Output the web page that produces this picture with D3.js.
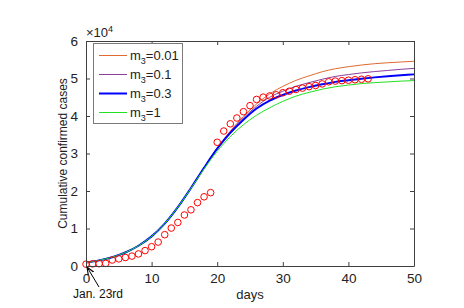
<!DOCTYPE html>
<html>
<head>
<meta charset="utf-8">
<script src="https://cdn.jsdelivr.net/npm/d3@7"></script>
<style>
  body { margin: 0; background: #fff; }
  svg { display: block; font-family: "Liberation Sans", Arial, sans-serif; }
</style>
</head>
<body>
<svg width="464" height="308"></svg>
<script>
// reported cumulative cases, day 0 = Jan. 23rd
const obsDays = d3.range(0, 44);
const obsCases = [495, 572, 618, 698, 1590, 1905, 2261, 2639, 3215, 4109,
  5142, 6384, 8351, 10117, 11618, 13603, 14982, 16902, 18454, 19558,
  32994, 35991, 37914, 39462, 41152, 42752, 44412, 45027, 45346, 45660,
  46201, 46607, 47071, 47441, 47824, 48137, 48557, 49122, 49315, 49426,
  49540, 49671, 49797, 49912];

// model curves, read every 2 days
const modelDays = [0, 2, 4, 6, 8, 10, 12, 14, 16, 18, 20, 22, 24, 26, 28, 30, 32, 34, 36, 38, 40, 42, 44, 46, 48, 50];
const m001 = [900, 1500, 2350, 3600, 5400, 7900, 11300, 15700, 20800, 26250, 31500, 36000, 39900, 43200, 45900, 47900, 49500, 50700, 51800, 52600, 53150, 53600, 53950, 54200, 54400, 54600];
const m01 = [900, 1500, 2350, 3600, 5400, 7900, 11300, 15700, 20800, 26200, 31400, 35800, 39500, 42600, 45000, 46600, 47900, 48900, 49800, 50550, 51050, 51500, 51850, 52150, 52450, 52700];
const m03 = [900, 1500, 2350, 3600, 5400, 7900, 11300, 15700, 20800, 26200, 31300, 35500, 39000, 42000, 44100, 45600, 46800, 47700, 48450, 49100, 49550, 49950, 50300, 50600, 50850, 51100];
const m1 = [900, 1500, 2350, 3600, 5400, 7900, 11300, 15700, 20700, 25900, 30600, 34500, 37700, 40200, 42200, 43900, 45300, 46300, 47150, 47800, 48250, 48650, 48900, 49100, 49300, 49450];

const seriesNames = ["0.01", "0.1", "0.3", "1"];
const seriesColors = ["#e06a30", "#8a3f9a", "#0000ff", "#22e022"];
const seriesWidths = [1, 1, 2, 1];
const seriesValues = [m001, m01, m03, m1];

const xTicks = [0, 10, 20, 30, 40, 50];
const yTicks = [0, 10000, 20000, 30000, 40000, 50000, 60000];

const svg = d3.select("svg");
const plotLeft = 86, plotRight = 414, plotTop = 41, plotBottom = 266;

const x = d3.scaleLinear().domain([0, 50]).range([plotLeft, plotRight]);
const y = d3.scaleLinear().domain([0, 60000]).range([plotBottom, plotTop]);

const axisColor = "#404040";

// curves
const line = d3.line()
  .x(d => x(d[0]))
  .y(d => y(d[1]))
  .curve(d3.curveMonotoneX);

seriesValues.forEach((vals, i) => {
  svg.append("path")
    .datum(modelDays.map((d, j) => [d, vals[j]]))
    .attr("d", line)
    .attr("fill", "none")
    .attr("stroke", seriesColors[i])
    .attr("stroke-width", seriesWidths[i]);
});

// observed points
svg.append("g")
  .selectAll("circle")
  .data(obsDays)
  .join("circle")
  .attr("cx", d => x(d))
  .attr("cy", (d, i) => y(obsCases[i]))
  .attr("r", 3.3)
  .attr("fill", "none")
  .attr("stroke", "#ff0000")
  .attr("stroke-width", 1);

// axes (box with inward ticks)
const fmtY = d => d / 10000;
svg.append("g")
  .attr("transform", `translate(0,${plotBottom})`)
  .call(d3.axisBottom(x).tickValues(xTicks).tickSizeInner(-4).tickSizeOuter(0).tickPadding(7))
  .call(g => g.selectAll("text").attr("font-size", 13.5).attr("fill", "#222"));
svg.append("g")
  .attr("transform", `translate(0,${plotTop})`)
  .call(d3.axisTop(x).tickValues(xTicks).tickSizeInner(-4).tickSizeOuter(0).tickFormat(""));
svg.append("g")
  .attr("transform", `translate(${plotLeft},0)`)
  .call(d3.axisLeft(y).tickValues(yTicks).tickFormat(fmtY).tickSizeInner(-4).tickSizeOuter(0).tickPadding(8))
  .call(g => g.selectAll("text").attr("font-size", 13.5).attr("fill", "#222"));
svg.append("g")
  .attr("transform", `translate(${plotRight},0)`)
  .call(d3.axisRight(y).tickValues(yTicks).tickSizeInner(-4).tickSizeOuter(0).tickFormat(""));
svg.selectAll(".domain").attr("stroke", axisColor);
svg.selectAll(".tick line").attr("stroke", axisColor);

// exponent label
const ex = svg.append("text").attr("x", plotLeft).attr("y", 37).attr("font-size", 13).attr("fill", "#222");
ex.append("tspan").text("\u00d710");
ex.append("tspan").attr("font-size", 9).attr("dy", -5).text("4");

// axis titles
svg.append("text")
  .attr("transform", `translate(67,${(plotTop + plotBottom) / 2}) rotate(-90)`)
  .attr("text-anchor", "middle")
  .attr("font-size", 12)
  .attr("fill", "#222")
  .text("Cumulative confirmed cases");
svg.append("text")
  .attr("x", (plotLeft + plotRight) / 2)
  .attr("y", 299)
  .attr("text-anchor", "middle")
  .attr("font-size", 13)
  .attr("fill", "#222")
  .text("days");

// annotation
svg.append("defs").append("marker")
  .attr("id", "arr")
  .attr("viewBox", "0 0 10 10")
  .attr("refX", 10).attr("refY", 5)
  .attr("markerWidth", 8).attr("markerHeight", 8)
  .attr("orient", "auto")
  .append("path").attr("d", "M0,1 L10,5 L0,9").attr("fill", "none").attr("stroke", "#000").attr("stroke-width", 1.4);
svg.append("line")
  .attr("x1", 99).attr("y1", 287)
  .attr("x2", x(0) + 1).attr("y2", y(0) + 1)
  .attr("stroke", "#000").attr("stroke-width", 1)
  .attr("marker-end", "url(#arr)");
svg.append("text")
  .attr("x", 73).attr("y", 298)
  .attr("font-size", 12)
  .attr("fill", "#111")
  .text("Jan. 23rd");

// legend
const lg = svg.append("g");
lg.append("rect")
  .attr("x", 93.5).attr("y", 43.5)
  .attr("width", 89).attr("height", 80)
  .attr("fill", "#fff")
  .attr("stroke", "#7a7a7a")
  .attr("stroke-width", 1);
seriesNames.forEach((name, i) => {
  const ly = 55.5 + i * 19;
  lg.append("line")
    .attr("x1", 99).attr("x2", 127)
    .attr("y1", ly).attr("y2", ly)
    .attr("stroke", seriesColors[i])
    .attr("stroke-width", seriesWidths[i]);
  const t = lg.append("text")
    .attr("x", 130).attr("y", ly + 4)
    .attr("font-size", 13)
    .attr("fill", "#222");
  t.append("tspan").text("m");
  t.append("tspan").attr("font-size", 9).attr("dy", 4).text("3");
  t.append("tspan").attr("dy", -4).text("=" + name);
});
</script>
</body>
</html>
